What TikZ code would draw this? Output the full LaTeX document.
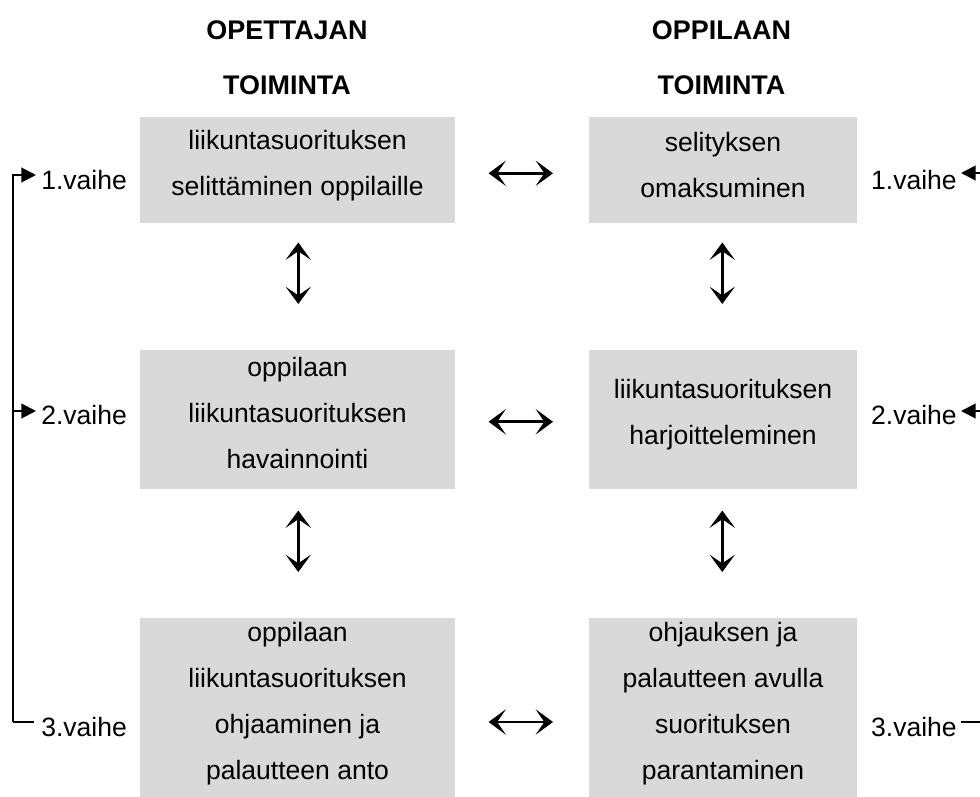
\documentclass[tikz,border=0pt]{standalone}
\usepackage{fontspec}
\setmainfont{Liberation Sans}
\usetikzlibrary{arrows.meta,calc}
\definecolor{boxgray}{HTML}{D9D9D9}
\begin{document}
\begin{tikzpicture}[x=0.75pt,y=-0.75pt,
  box/.style={fill=boxgray,draw=none,inner sep=0pt,anchor=north west},
  boxtext/.style={align=center,inner sep=0pt,font=\fontsize{19.9pt}{34.5pt}\selectfont},
  head/.style={align=center,inner sep=0pt,font=\fontsize{20.2pt}{41.25pt}\selectfont\bfseries},
  lab/.style={inner sep=0pt,font=\fontsize{19.9pt}{24pt}\selectfont},
  dbl/.style={line width=2.2pt,{Stealth[length=13pt,width=19pt,inset=6.5pt]}-{Stealth[length=13pt,width=19pt,inset=6.5pt]}},
  brk/.style={line width=1.5pt},
  tri/.style={-{Triangle[length=11pt,width=11pt]}}]
\clip (0,0) rectangle (980,796);
\useasboundingbox (0,0) rectangle (980,796);
% headings
\node[head] (h1) at (287,57.5) {OPETTAJAN\\TOIMINTA};
\node[head] (h2) at (721.5,57.5) {OPPILAAN\\TOIMINTA};
% boxes
\node[box,minimum width=236.25pt,minimum height=79.5pt] (l1) at (140,117) {};
\node[box,minimum width=201pt,minimum height=79.5pt] (r1) at (589,117) {};
\node[box,minimum width=236.25pt,minimum height=104.25pt] (l2) at (140,350) {};
\node[box,minimum width=201pt,minimum height=104.25pt] (r2) at (589,350) {};
\node[box,minimum width=236.25pt,minimum height=150pt] (l3) at (140,618) {};
\node[box,minimum width=201pt,minimum height=150pt] (r3) at (589,618) {};
% box texts
\node[boxtext] (l1t) at (297.5,165.5) {liikuntasuorituksen\\selittäminen oppilaille};
\node[boxtext] (r1t) at (723,165) {selityksen\\omaksuminen};
\node[boxtext] (l2t) at (297.5,413) {oppilaan\\liikuntasuorituksen\\havainnointi};
\node[boxtext] (r2t) at (723,415) {liikuntasuorituksen\\harjoitteleminen};
\node[boxtext] (l3t) at (297.5,704) {oppilaan\\liikuntasuorituksen\\ohjaaminen ja\\palautteen anto};
\node[boxtext] (r3t) at (723,704) {ohjauksen ja\\palautteen avulla\\suorituksen\\parantaminen};
% side labels
\node[lab,anchor=west] (a1) at (41,180) {1.vaihe};
\node[lab,anchor=west] (a2) at (41,415) {2.vaihe};
\node[lab,anchor=west] (a3) at (41,727) {3.vaihe};
\node[lab,anchor=east] (b1) at (957,180) {1.vaihe};
\node[lab,anchor=east] (b2) at (957,415) {2.vaihe};
\node[lab,anchor=east] (b3) at (957,727) {3.vaihe};
% left bracket
\coordinate (lt) at (13,175);
\coordinate (lm) at (13,411);
\coordinate (lb) at (13,722);
\draw[brk] (lb) -- (lt);
\draw[brk] (lb) -- ($(a3.west |- lb)+(-7,0)$);
\draw[brk,tri] ([xshift=-0.75pt]lt) -- ($(a1.west |- lt)+(-5,0)$);
\draw[brk,tri] (lm) -- ($(a2.west |- lm)+(-5,0)$);
% right side
\coordinate (rt) at (982,173);
\coordinate (rm) at (982,411);
\coordinate (rb) at (982,722);
\draw[brk,tri] (rt) -- ($(b1.east |- rt)+(4,0)$);
\draw[brk,tri] (rm) -- ($(b2.east |- rm)+(4,0)$);
\draw[brk] (rb) -- ($(b3.east |- rb)+(4,0)$);
% horizontal double arrows
\draw[dbl] ($(l1.east)+(33,3)$) -- ($(r1.west)+(-36,3)$);
\draw[dbl] ($(l2.east)+(33,2)$) -- ($(r2.west)+(-36,2)$);
\draw[dbl] ($(l3.north east)+(33,104)$) -- ($(r3.north west)+(-36,104)$);
% vertical double arrows
\draw[dbl] ($(l1.south)+(0.5,19)$) -- ($(l2.north)+(0.5,-46)$);
\draw[dbl] ($(l2.south)+(0.5,21)$) -- ($(l3.north)+(0.5,-46)$);
\draw[dbl] ($(r1.south)+(-1,19)$) -- ($(r2.north)+(-1,-46)$);
\draw[dbl] ($(r2.south)+(-1,21)$) -- ($(r3.north)+(-1,-46)$);
\end{tikzpicture}
\end{document}
